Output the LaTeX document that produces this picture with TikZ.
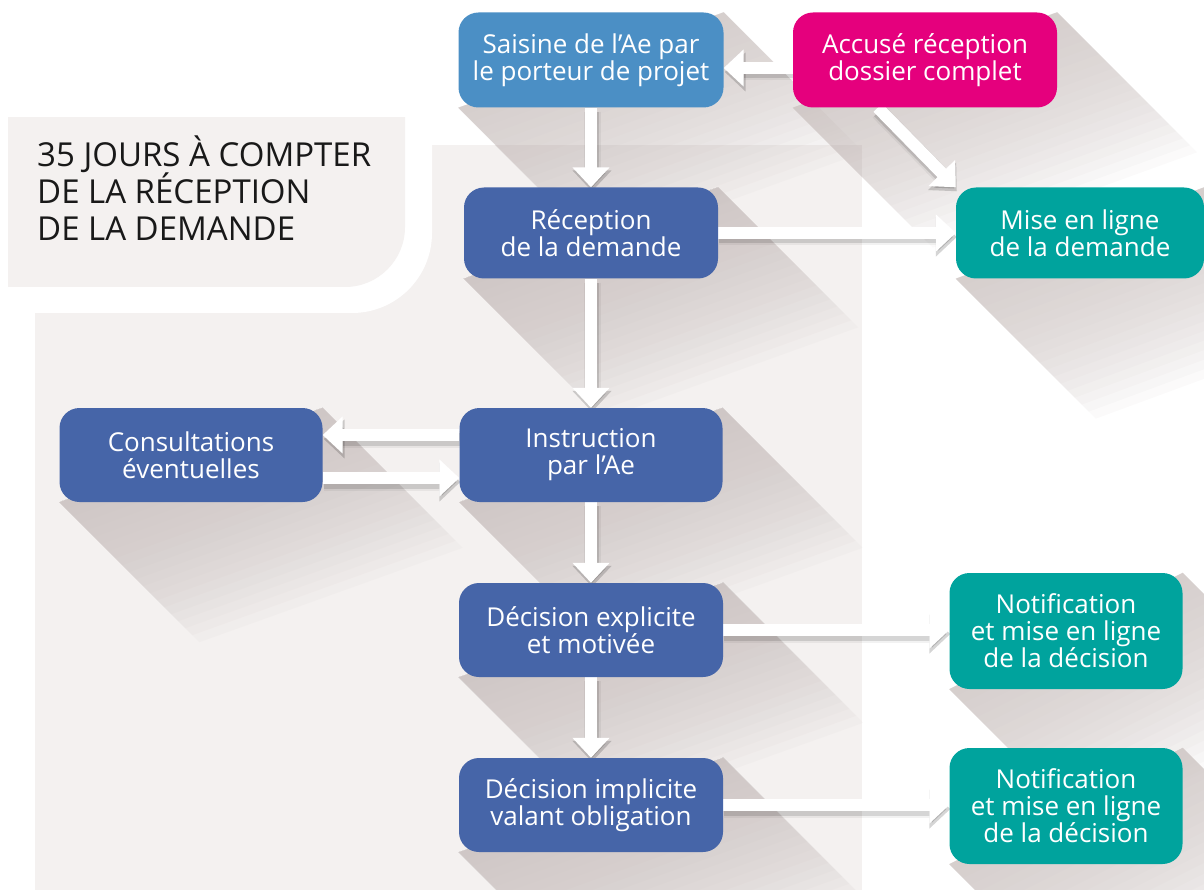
\documentclass[tikz,border=0pt]{standalone}
\usepackage{fontspec}
\setmainfont{Open Sans}
\usetikzlibrary{arrows.meta}

\definecolor{aeblue}{HTML}{4B8FC5}
\definecolor{aenavy}{HTML}{4665A8}
\definecolor{aepink}{HTML}{E5007D}
\definecolor{aeteal}{HTML}{00A39D}
\definecolor{aepaper}{HTML}{F4F1F0}
\definecolor{aeshade}{HTML}{CBC2C0}

\pgfdeclarelayer{paper}
\pgfdeclarelayer{shade}
\pgfdeclarelayer{arrows}
\pgfsetlayers{paper,shade,arrows,main}

% long diagonal shadow behind a box, built from stacked thin layers
\newcommand{\longshade}[1]{%
  \foreach \k in {1,...,20}{%
    \fill[aeshade, opacity=0.075]
      (#1.north east) -- ([xshift=7*\k pt,yshift=-7*\k pt]#1.north east)
      -- ([xshift=7*\k pt,yshift=-7*\k pt]#1.south west) -- (#1.south west) -- cycle;}}
% white arrow with its soft shadow
\newcommand{\flowline}[2]{%
  \draw[flowshade, line width=17pt, opacity=0.05] #1 -- #2;
  \draw[flowshade] #1 -- #2;
  \draw[flow] #1 -- #2;}

\begin{document}
\begin{tikzpicture}[x=1pt,y=-1pt,
  box/.style={rounded corners=20pt, text=white, align=center, inner sep=0pt,
    font=\fontsize{26}{27}\selectfont, minimum width=264pt, minimum height=94pt},
  flow/.style={draw=white, line width=12pt, -{Triangle[length=20pt,width=36pt]}},
  flowshade/.style={draw=black, opacity=0.12, line width=13pt,
    -{Triangle[length=21pt,width=38pt]}, transform canvas={xshift=1pt,yshift=-4pt}}]
\useasboundingbox (0,0) rectangle (1204,890);

\begin{pgfonlayer}{paper}
\fill[aepaper] (35,145) rectangle (862,890);
\fill[white, rounded corners=80pt] (-300,-300) rectangle (432,313);
\begin{scope}
\clip (8,118) rectangle (405,287);
\fill[aepaper, rounded corners=60pt] (-300,-300) rectangle (405,287);
\end{scope}
\end{pgfonlayer}

\node[anchor=north west, inner sep=0pt, align=left, text=black!90,
  font=\fontsize{33}{37}\selectfont] (delai) at (37,136)
  {35 JOURS À COMPTER\\DE LA RÉCEPTION\\DE LA DEMANDE};

\node[box, fill=aeblue, minimum width=265pt, minimum height=95pt] (saisine) at (591,60) {Saisine de l’Ae par\\le porteur de projet};
\node[box, fill=aepink, minimum height=95pt] (accuse) at (925,60) {Accusé réception\\dossier complet};
\node[box, fill=aenavy, minimum width=254pt, minimum height=91pt] (reception) at (591,233) {Réception\\de la demande};
\node[box, fill=aeteal, minimum width=248pt, minimum height=91pt] (enligne) at (1080,233) {Mise en ligne\\de la demande};
\node[box, fill=aenavy, minimum width=263pt] (consult) at (191,455) {Consultations\\éventuelles};
\node[box, fill=aenavy, minimum width=263pt] (instruction) at (591,455) {Instruction\\par l’Ae};
\node[box, fill=aenavy] (explicite) at (591,630) {Décision explicite\\et motivée};
\node[box, fill=aenavy] (implicite) at (591,805) {Décision implicite\\valant obligation};
\node[box, fill=aeteal, minimum width=233pt, minimum height=116pt] (notifA) at (1066,631) {Notification\\et mise en ligne\\de la décision};
\node[box, fill=aeteal, minimum width=233pt, minimum height=116pt] (notifB) at (1066,806) {Notification\\et mise en ligne\\de la décision};

\begin{pgfonlayer}{shade}
\foreach \n in {saisine,accuse,reception,enligne,consult,instruction,explicite,implicite,notifA,notifB}
  {\longshade{\n}}
\end{pgfonlayer}

\begin{pgfonlayer}{arrows}
\flowline{([yshift=-8pt]accuse.west)}{([yshift=-8pt]saisine.east)}
\flowline{([xshift=85pt]accuse.south west)}{(enligne.north west)}
\flowline{(saisine)}{(reception)}
\flowline{(reception.east)}{(enligne.west)}
\flowline{(reception)}{(instruction)}
\flowline{([yshift=20pt]instruction.west)}{([yshift=20pt]consult.east)}
\flowline{([yshift=-23pt]consult.east)}{([yshift=-23pt]instruction.west)}
\flowline{(instruction)}{(explicite)}
\flowline{(explicite)}{(implicite)}
\flowline{(explicite.east)}{(explicite.east -| notifA.west)}
\flowline{(implicite.east)}{(implicite.east -| notifB.west)}
\end{pgfonlayer}
\end{tikzpicture}
\end{document}
